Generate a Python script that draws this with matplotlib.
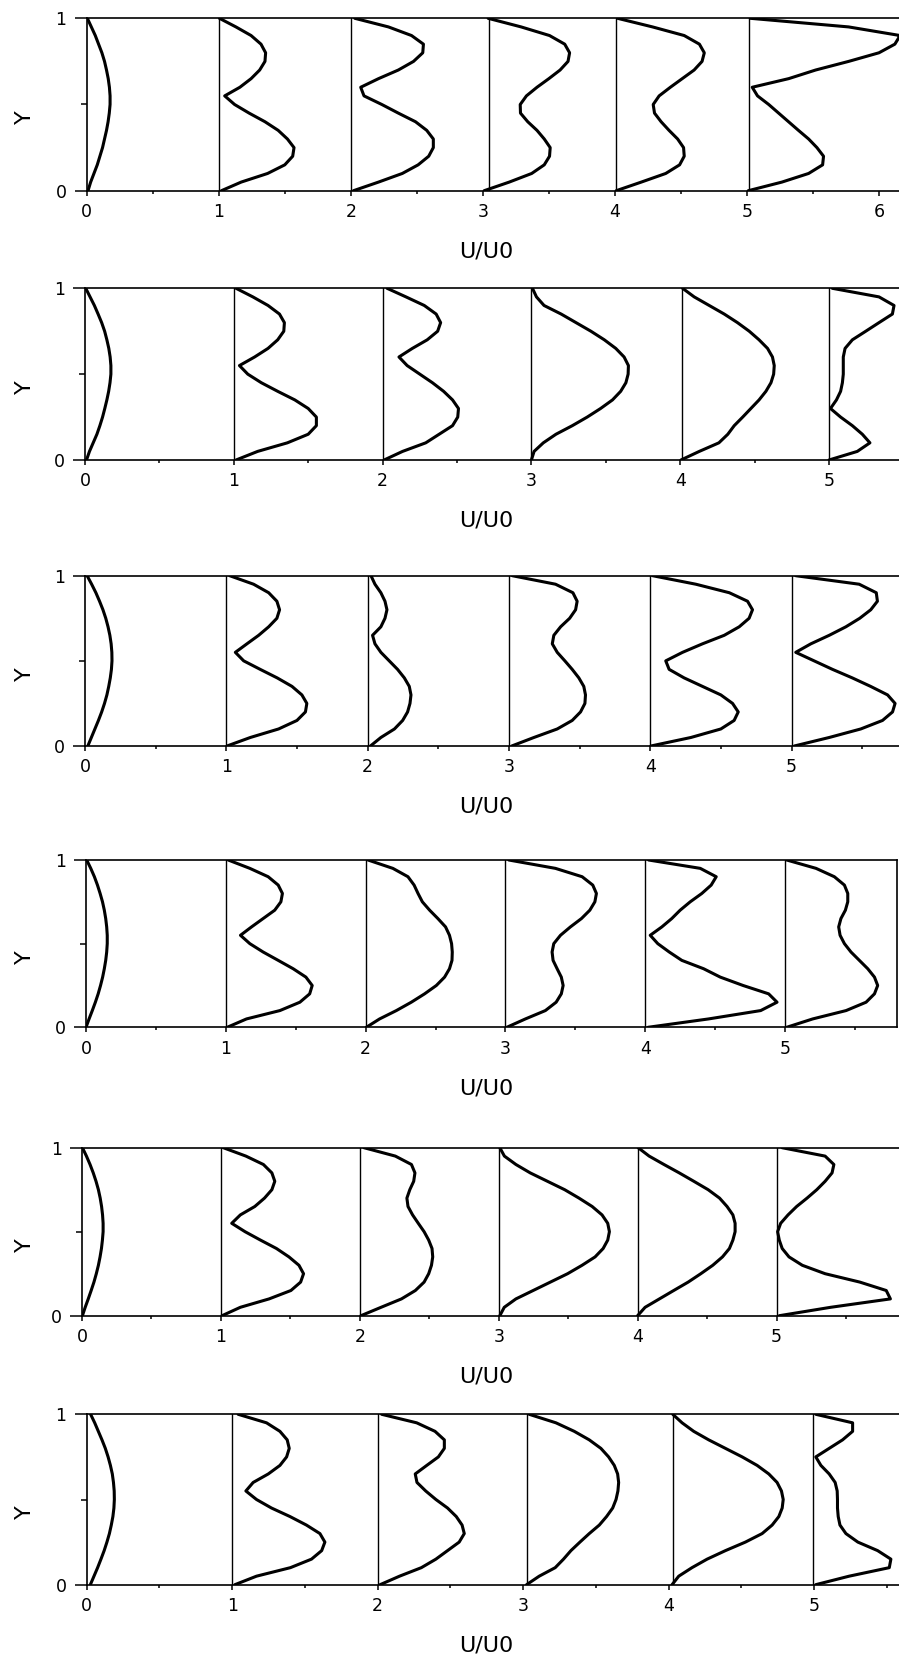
import matplotlib.pyplot as plt
from matplotlib.ticker import MultipleLocator, FixedLocator

# heights across the channel where every profile is sampled
y_levels = [0.0, 0.05, 0.1, 0.15, 0.2, 0.25, 0.3, 0.35, 0.4, 0.45, 0.5,
            0.55, 0.6, 0.65, 0.7, 0.75, 0.8, 0.85, 0.9, 0.95, 1.0]

# U/U0 of each profile (before shifting it to its own station 0..5)
panel1 = [
    [0.01, 0.03, 0.055, 0.08, 0.10, 0.12, 0.135, 0.15, 0.162, 0.171, 0.177, 0.177, 0.172, 0.163, 0.15, 0.135, 0.115, 0.09, 0.065, 0.035, 0.005],
    [0.02, 0.17, 0.37, 0.50, 0.56, 0.57, 0.52, 0.45, 0.35, 0.23, 0.12, 0.045, 0.16, 0.245, 0.31, 0.35, 0.355, 0.32, 0.245, 0.13, 0.005],
    [0.02, 0.21, 0.39, 0.51, 0.59, 0.625, 0.625, 0.575, 0.49, 0.36, 0.235, 0.10, 0.075, 0.21, 0.36, 0.475, 0.545, 0.55, 0.46, 0.285, 0.03],
    [0.01, 0.20, 0.37, 0.465, 0.505, 0.51, 0.465, 0.41, 0.34, 0.285, 0.283, 0.33, 0.41, 0.50, 0.585, 0.645, 0.657, 0.62, 0.505, 0.29, 0.04],
    [0.01, 0.20, 0.385, 0.49, 0.525, 0.52, 0.475, 0.41, 0.35, 0.30, 0.29, 0.335, 0.42, 0.51, 0.60, 0.66, 0.677, 0.64, 0.525, 0.285, 0.02],
    [0.01, 0.265, 0.467, 0.573, 0.58, 0.53, 0.467, 0.39, 0.315, 0.24, 0.165, 0.08, 0.04, 0.316, 0.52, 0.77, 1.0, 1.12, 1.16, 0.77, 0.025],
]
panel2 = [
    [0.01, 0.03, 0.055, 0.08, 0.10, 0.118, 0.133, 0.147, 0.159, 0.168, 0.174, 0.174, 0.169, 0.16, 0.147, 0.132, 0.112, 0.088, 0.063, 0.034, 0.005],
    [0.015, 0.16, 0.36, 0.50, 0.555, 0.555, 0.50, 0.41, 0.295, 0.185, 0.094, 0.038, 0.14, 0.23, 0.295, 0.336, 0.34, 0.307, 0.23, 0.128, 0.015],
    [0.01, 0.134, 0.29, 0.38, 0.47, 0.505, 0.51, 0.47, 0.41, 0.335, 0.25, 0.165, 0.11, 0.20, 0.30, 0.37, 0.39, 0.36, 0.28, 0.157, 0.03],
    [0.0, 0.018, 0.08, 0.165, 0.275, 0.375, 0.465, 0.545, 0.60, 0.635, 0.65, 0.652, 0.623, 0.567, 0.49, 0.40, 0.30, 0.20, 0.085, 0.034, 0.007],
    [0.005, 0.128, 0.26, 0.32, 0.363, 0.42, 0.475, 0.53, 0.576, 0.61, 0.628, 0.632, 0.62, 0.587, 0.53, 0.464, 0.385, 0.296, 0.195, 0.094, 0.016],
    [0.0, 0.19, 0.275, 0.224, 0.157, 0.078, 0.01, 0.05, 0.078, 0.09, 0.096, 0.096, 0.096, 0.108, 0.157, 0.247, 0.336, 0.426, 0.437, 0.336, 0.022],
]
panel3 = [
    [0.02, 0.045, 0.07, 0.095, 0.118, 0.138, 0.155, 0.168, 0.179, 0.187, 0.191, 0.19, 0.185, 0.176, 0.163, 0.147, 0.127, 0.103, 0.077, 0.047, 0.015],
    [0.005, 0.17, 0.37, 0.50, 0.56, 0.57, 0.535, 0.465, 0.36, 0.24, 0.123, 0.064, 0.146, 0.229, 0.30, 0.358, 0.377, 0.358, 0.30, 0.193, 0.024],
    [0.02, 0.094, 0.19, 0.248, 0.283, 0.30, 0.307, 0.295, 0.26, 0.212, 0.153, 0.094, 0.052, 0.035, 0.094, 0.123, 0.137, 0.123, 0.094, 0.052, 0.024],
    [0.02, 0.177, 0.342, 0.448, 0.507, 0.538, 0.542, 0.53, 0.495, 0.448, 0.396, 0.342, 0.307, 0.318, 0.366, 0.43, 0.472, 0.483, 0.453, 0.33, 0.024],
    [0.005, 0.288, 0.50, 0.594, 0.623, 0.583, 0.50, 0.37, 0.24, 0.134, 0.11, 0.229, 0.37, 0.524, 0.63, 0.70, 0.724, 0.689, 0.56, 0.323, 0.017],
    [0.02, 0.267, 0.49, 0.644, 0.715, 0.733, 0.68, 0.56, 0.43, 0.29, 0.16, 0.03, 0.137, 0.267, 0.385, 0.483, 0.561, 0.608, 0.60, 0.479, 0.03],
]
panel4 = [
    [0.0, 0.022, 0.045, 0.067, 0.087, 0.104, 0.119, 0.131, 0.141, 0.148, 0.152, 0.152, 0.148, 0.141, 0.131, 0.118, 0.101, 0.082, 0.06, 0.034, 0.005],
    [0.01, 0.148, 0.387, 0.53, 0.60, 0.618, 0.573, 0.482, 0.375, 0.267, 0.172, 0.105, 0.184, 0.267, 0.35, 0.394, 0.405, 0.375, 0.303, 0.172, 0.017],
    [0.005, 0.10, 0.22, 0.327, 0.422, 0.506, 0.565, 0.60, 0.618, 0.62, 0.615, 0.60, 0.572, 0.517, 0.458, 0.406, 0.375, 0.347, 0.303, 0.195, 0.017],
    [0.01, 0.143, 0.286, 0.363, 0.40, 0.413, 0.40, 0.37, 0.341, 0.334, 0.346, 0.394, 0.465, 0.544, 0.604, 0.64, 0.651, 0.625, 0.549, 0.358, 0.024],
    [0.02, 0.453, 0.826, 0.943, 0.883, 0.70, 0.537, 0.418, 0.262, 0.172, 0.09, 0.036, 0.119, 0.19, 0.25, 0.322, 0.405, 0.472, 0.508, 0.394, 0.024],
    [0.012, 0.198, 0.437, 0.58, 0.64, 0.663, 0.64, 0.592, 0.532, 0.472, 0.425, 0.394, 0.384, 0.40, 0.432, 0.449, 0.449, 0.425, 0.353, 0.222, 0.012],
]
panel5 = [
    [0.003, 0.023, 0.045, 0.066, 0.086, 0.103, 0.118, 0.13, 0.14, 0.147, 0.152, 0.152, 0.148, 0.141, 0.131, 0.118, 0.101, 0.081, 0.058, 0.032, 0.003],
    [0.008, 0.14, 0.347, 0.504, 0.574, 0.595, 0.562, 0.49, 0.40, 0.285, 0.174, 0.078, 0.14, 0.244, 0.314, 0.367, 0.388, 0.367, 0.306, 0.18, 0.017],
    [0.008, 0.153, 0.30, 0.40, 0.463, 0.496, 0.516, 0.525, 0.52, 0.496, 0.463, 0.421, 0.38, 0.347, 0.339, 0.36, 0.388, 0.397, 0.372, 0.256, 0.03],
    [0.008, 0.04, 0.124, 0.248, 0.372, 0.496, 0.60, 0.694, 0.752, 0.785, 0.797, 0.785, 0.744, 0.673, 0.578, 0.475, 0.351, 0.227, 0.124, 0.041, 0.008],
    [0.0, 0.054, 0.157, 0.26, 0.364, 0.455, 0.541, 0.611, 0.661, 0.686, 0.702, 0.702, 0.686, 0.644, 0.59, 0.508, 0.405, 0.30, 0.19, 0.083, 0.004],
    [0.02, 0.39, 0.82, 0.79, 0.60, 0.35, 0.186, 0.09, 0.041, 0.02, 0.008, 0.03, 0.083, 0.145, 0.22, 0.29, 0.35, 0.40, 0.413, 0.35, 0.04],
]
panel6 = [
    [0.025, 0.05, 0.075, 0.098, 0.12, 0.139, 0.156, 0.169, 0.18, 0.187, 0.19, 0.189, 0.184, 0.176, 0.163, 0.147, 0.128, 0.105, 0.08, 0.055, 0.027],
    [0.018, 0.167, 0.40, 0.545, 0.615, 0.637, 0.603, 0.51, 0.397, 0.27, 0.167, 0.094, 0.144, 0.248, 0.328, 0.374, 0.392, 0.378, 0.328, 0.236, 0.041],
    [0.016, 0.15, 0.30, 0.40, 0.48, 0.56, 0.595, 0.58, 0.54, 0.48, 0.40, 0.33, 0.27, 0.258, 0.337, 0.417, 0.458, 0.458, 0.394, 0.268, 0.027],
    [0.023, 0.11, 0.22, 0.277, 0.328, 0.39, 0.454, 0.523, 0.573, 0.615, 0.638, 0.651, 0.656, 0.649, 0.626, 0.587, 0.534, 0.454, 0.351, 0.225, 0.041],
    [0.023, 0.069, 0.16, 0.264, 0.39, 0.527, 0.642, 0.711, 0.757, 0.78, 0.787, 0.775, 0.745, 0.688, 0.608, 0.505, 0.39, 0.275, 0.172, 0.092, 0.028],
    [0.01, 0.24, 0.516, 0.527, 0.436, 0.30, 0.218, 0.177, 0.165, 0.16, 0.16, 0.158, 0.144, 0.103, 0.046, 0.011, 0.103, 0.195, 0.264, 0.264, 0.011],
]
panels = [panel1, panel2, panel3, panel4, panel5, panel6]

# vertical reference line drawn at each station
stations = [
    [1, 2, 3.043, 4.008, 5.013],
    [1, 2, 3, 4.009, 5],
    [1, 2, 3, 4, 5],
    [1, 2, 3, 4, 5],
    [1, 2, 3, 4, 5],
    [1, 2, 3.023, 4.027, 4.99],
]
x_max = [6.2, 5.5, 5.8, 5.8, 5.9, 5.6]

W, H = 899, 1659
# left edge, top, bottom, pixels per unit of U/U0 (figure pixels)
frames = [
    (86.7, 18.3, 190.7, 132.05),
    (85.0, 288.3, 460.0, 148.8),
    (85.0, 575.7, 746.0, 141.3),
    (86.0, 860.0, 1027.3, 139.8),
    (82.0, 1147.7, 1315.7, 138.9),
    (86.7, 1414.3, 1584.7, 145.5),
]

plt.rcParams['font.family'] = ['DejaVu Sans']
fig = plt.figure(figsize=(W / 100, H / 100), dpi=100)

for profiles, lines, xm, (left, top, bottom, unit) in zip(panels, stations, x_max, frames):
    ax = fig.add_axes([left / W, 1 - bottom / H, unit * xm / W, (bottom - top) / H])
    for k, u in enumerate(profiles):
        ax.plot([k + v for v in u], y_levels, color='black', lw=2.2,
                solid_joinstyle='round', solid_capstyle='round')
    for s in lines:
        ax.axvline(s, color='black', lw=1.0)
    ax.set_xlim(0, xm)
    ax.set_ylim(0, 1)

    ax.xaxis.set_major_locator(MultipleLocator(1))
    ax.xaxis.set_minor_locator(MultipleLocator(0.5))
    ax.yaxis.set_major_locator(FixedLocator([0, 1]))
    ax.yaxis.set_minor_locator(FixedLocator([0.5]))
    ax.tick_params(axis='x', which='major', direction='out', length=3.8, width=1.1,
                   pad=5, labelsize=12.5)
    ax.tick_params(axis='x', which='minor', direction='out', length=2.4, width=1.1)
    ax.tick_params(axis='y', which='major', direction='out', length=8.6, width=1.1,
                   pad=6, labelsize=12.5)
    ax.tick_params(axis='y', which='minor', direction='out', length=4.3, width=1.1)
    for sp in ax.spines.values():
        sp.set_linewidth(1.2)

    ax.set_xlabel('U/U0', fontsize=16, va='center')
    ax.xaxis.set_label_coords(486 / W, 1 - (bottom + 61) / H, transform=fig.transFigure)
    ax.set_ylabel('Y', fontsize=16, va='center')
    ax.yaxis.set_label_coords(25 / W, 1 - ((top + bottom) / 2 + 13) / H,
                              transform=fig.transFigure)

fig.savefig('out.png', dpi=100)
